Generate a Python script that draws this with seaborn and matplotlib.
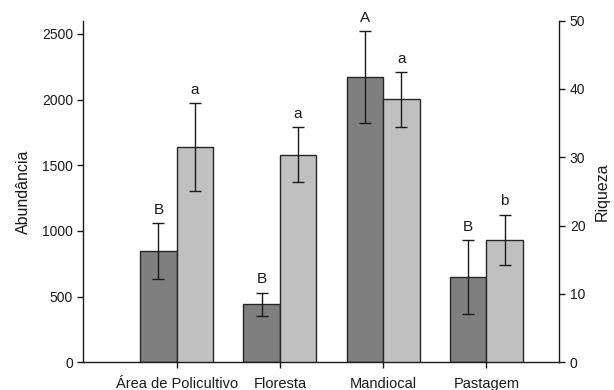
import numpy as np
import pandas as pd
import matplotlib
matplotlib.use("Agg")
import matplotlib.pyplot as plt
import seaborn as sns

categories = ["Área de Policultivo", "Floresta", "Mandiocal", "Pastagem"]
abundancia = [846, 440, 2170, 650]
abundancia_err = [212, 90, 350, 280]
riqueza = [31.5, 30.4, 38.5, 17.9]
riqueza_err = [6.4, 4.0, 4.0, 3.7]
letters_abund = ["B", "B", "A", "B"]
letters_riq = ["a", "a", "a", "b"]

sns.set_theme(style="ticks")
plt.rcParams['font.family'] = ['Liberation Sans', 'DejaVu Sans']

dark = "#7f7f7f"
light = "#c0c0c0"
txt = "#1a1a1a"

df = pd.DataFrame({
    "cat": categories * 2,
    "var": ["Abundância"] * 4 + ["Riqueza"] * 4,
    "abund": abundancia + [np.nan] * 4,
    "riq": [np.nan] * 4 + riqueza,
})

fig = plt.figure(figsize=(6.14, 3.90), dpi=100)
ax = fig.add_axes([0.135, 0.071, 0.775, 0.876])
ax2 = ax.twinx()

hue_order = ["Abundância", "Riqueza"]
pal = {"Abundância": dark, "Riqueza": light}
sns.barplot(data=df, x="cat", y="abund", hue="var", hue_order=hue_order,
            order=categories, palette=pal, width=0.706, ax=ax, legend=False,
            edgecolor="#262626", linewidth=1.0, saturation=1, errorbar=None)
sns.barplot(data=df, x="cat", y="riq", hue="var", hue_order=hue_order,
            order=categories, palette=pal, width=0.706, ax=ax2, legend=False,
            edgecolor="#262626", linewidth=1.0, saturation=1, errorbar=None)

def bar_centers(a):
    ps = [p for p in a.patches if np.isfinite(p.get_height()) and p.get_height() > 0]
    ps.sort(key=lambda p: p.get_x())
    return [p.get_x() + p.get_width() / 2 for p in ps]

xa = bar_centers(ax)
xr = bar_centers(ax2)

ax.errorbar(xa, abundancia, yerr=abundancia_err, fmt="none", ecolor="#1a1a1a",
            elinewidth=1.0, capsize=4, capthick=1.0, zorder=5)
ax2.errorbar(xr, riqueza, yerr=riqueza_err, fmt="none", ecolor="#1a1a1a",
             elinewidth=1.0, capsize=4, capthick=1.0, zorder=5)

for x, v, e, l in zip(xa, abundancia, abundancia_err, letters_abund):
    ax.annotate(l, (x, v + e), xytext=(0, 4.5), textcoords="offset points",
                ha="center", va="bottom", fontsize=11, color=txt)
for x, v, e, l in zip(xr, riqueza, riqueza_err, letters_riq):
    ax2.annotate(l, (x, v + e), xytext=(0, 4.5), textcoords="offset points",
                 ha="center", va="bottom", fontsize=11, color=txt)

ax.set_xlim(-0.907, 3.70)
ax.set_ylim(0, 2600)
ax2.set_ylim(0, 50)
ax.set_yticks([0, 500, 1000, 1500, 2000, 2500])
ax2.set_yticks([0, 10, 20, 30, 40, 50])

ax.set_xlabel("")
ax.set_ylabel("Abundância", fontsize=11.5, color=txt, labelpad=8)
ax2.set_ylabel("Riqueza", fontsize=11.5, color=txt, labelpad=7)

for a in (ax, ax2):
    a.spines["top"].set_visible(False)
    for s in a.spines.values():
        s.set_color("#1a1a1a")
        s.set_linewidth(1.0)
ax.spines["right"].set_visible(False)
ax2.spines["left"].set_visible(False)
ax2.spines["bottom"].set_visible(False)

ax.tick_params(axis="y", direction="out", length=4, width=1, pad=3,
               labelsize=10, colors=txt)
ax.tick_params(axis="x", direction="out", length=4, width=1, pad=6.5,
               labelsize=10.5, colors=txt)
ax2.tick_params(axis="y", direction="out", length=4, width=1, pad=4,
                labelsize=10, colors=txt)

fig.savefig("out.png", dpi=100)
